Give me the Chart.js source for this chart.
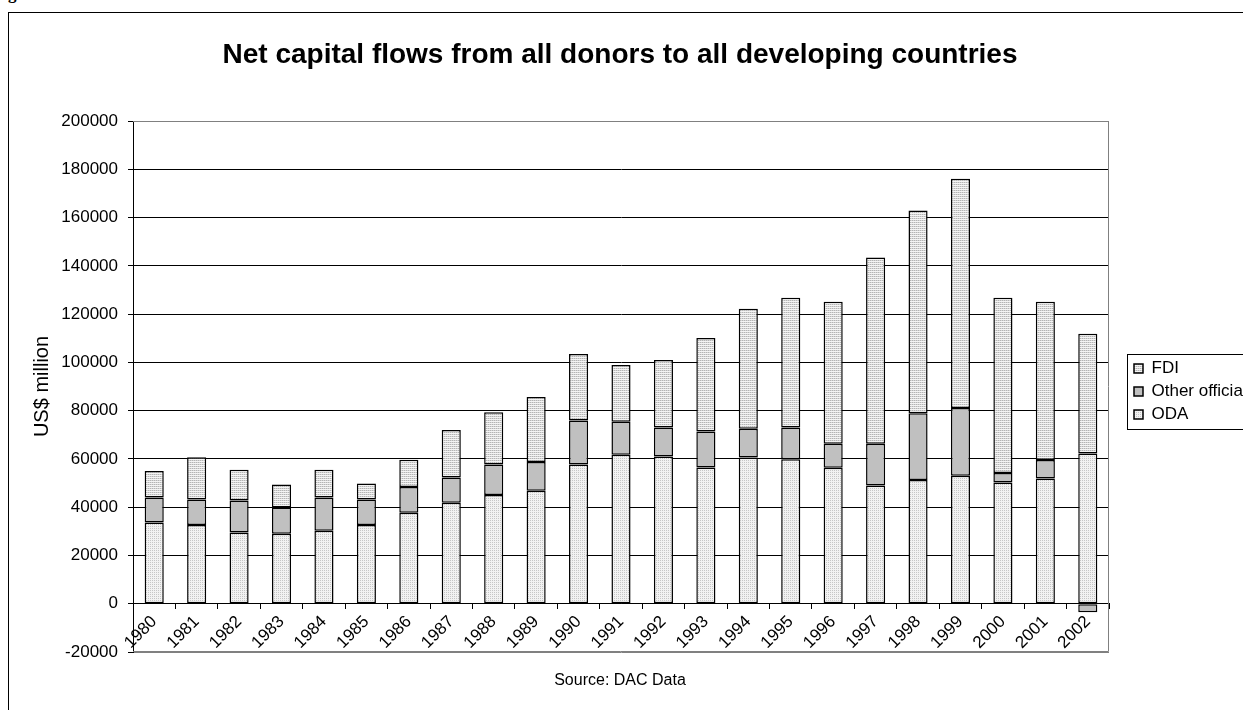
<!DOCTYPE html>
<html>
<head>
<meta charset="utf-8">
<title>Net capital flows from all donors to all developing countries</title>
<script src="https://cdn.jsdelivr.net/npm/chart.js@4.4.1/dist/chart.umd.min.js"></script>
<style>
html, body { margin: 0; padding: 0; background: #fff; overflow: hidden; width: 1243px; height: 710px; }
#wrap { position: relative; width: 1243px; height: 710px; overflow: hidden; }
#frame { position: absolute; left: 8px; top: 12px; width: 1300px; height: 800px; border: 1.5px solid #000; pointer-events: none; }
.fig { position: absolute; left: -7px; top: -16px; font: bold 17px "Liberation Serif", "Times New Roman", serif; }
canvas { position: absolute; left: 0; top: 0; }
</style>
</head>
<body>
<div id="wrap">
  <div class="fig">Figure 1:</div>
  <canvas id="flowChart" width="1243" height="710"></canvas>
  <div id="frame"></div>
</div>
<script>
// Data (US$ million)
const years = ['1980', '1981', '1982', '1983', '1984', '1985', '1986', '1987', '1988', '1989', '1990', '1991',
  '1992', '1993', '1994', '1995', '1996', '1997', '1998', '1999', '2000', '2001', '2002'];
const odaValues = [33700, 32600, 29500, 29000, 30200, 32600, 37700, 41800, 45000, 46800, 57700, 61700,
  61000, 56400, 60600, 59900, 56300, 49000, 51300, 53000, 50200, 51900, 62200];
const otherOfficialValues = [10300, 10600, 13300, 10900, 13800, 10600, 10700, 10500, 12700, 11900, 18200, 13700,
  12000, 15000, 11900, 13100, 10000, 17300, 27600, 28100, 4000, 7600, -3500];
const fdiValues = [11000, 17500, 12700, 9500, 11500, 6600, 11200, 19700, 21600, 26900, 27600, 23500,
  28000, 38700, 49700, 53800, 58800, 77100, 84000, 95000, 72600, 65600, 49700];
const yMin = -20000;
const yMax = 200000;
const yStep = 20000;

// Excel-style fill patterns
function makePattern(w, h, paint) {
    const c = document.createElement('canvas');
    c.width = w; c.height = h;
    const g = c.getContext('2d');
    paint(g);
    return g.createPattern(c, 'repeat');
}
const odaFill = makePattern(2, 2, g => {
    g.fillStyle = '#f2f2f2'; g.fillRect(0, 0, 2, 2);
    g.fillStyle = '#c6c6c6'; g.fillRect(0, 0, 1, 1);
});
const fdiFill = makePattern(4, 2, g => {
    g.fillStyle = '#f4f4f4'; g.fillRect(0, 0, 4, 2);
    g.fillStyle = '#b4b4b4'; g.fillRect(0, 0, 4, 1);
    g.fillStyle = '#d6d6d6'; g.fillRect(1, 0, 1, 1); g.fillRect(3, 0, 1, 1);
});

// Plot border, legend shift and legend frame
const framePlugin = {
    id: 'frame',
    afterLayout(chart) {
        const lg = chart.legend;
        lg.left += 19; lg.right += 19;
        lg.top += 5; lg.bottom += 5;
    },
    beforeDatasetsDraw(chart) {
        const { ctx, chartArea: a } = chart;
        ctx.save();
        ctx.strokeStyle = '#808080';
        ctx.lineWidth = 1;
        ctx.beginPath();
        ctx.moveTo(a.left, a.top + 0.5);
        ctx.lineTo(a.right - 0.5, a.top + 0.5);
        ctx.lineTo(a.right - 0.5, a.bottom - 0.5);
        ctx.lineTo(a.left, a.bottom - 0.5);
        ctx.stroke();
        ctx.restore();
    },
    afterDraw(chart) {
        const hb = chart.legend.legendHitBoxes;
        if (!hb || !hb.length) return;
        const { ctx } = chart;
        const last = hb[hb.length - 1];
        const x0 = Math.round(hb[0].left - 7) + 0.5;
        const y0 = Math.round(hb[0].top - 6) + 0.5;
        const y1 = Math.round(last.top + last.height + 6) + 0.5;
        ctx.save();
        ctx.strokeStyle = '#000';
        ctx.lineWidth = 1;
        ctx.strokeRect(x0, y0, chart.width + 20 - x0, y1 - y0);
        ctx.restore();
    }
};

Chart.defaults.font.family = 'Arial, "Liberation Sans", sans-serif';
Chart.defaults.color = '#000';

const barStyle = { borderColor: '#000', borderWidth: 1.5, borderSkipped: false, stack: 'flows' };

new Chart(document.getElementById('flowChart'), {
    type: 'bar',
    data: {
        labels: years,
        datasets: [
            { label: 'ODA', data: odaValues, backgroundColor: odaFill, ...barStyle },
            { label: 'Other official', data: otherOfficialValues, backgroundColor: '#c0c0c0', ...barStyle },
            { label: 'FDI', data: fdiValues, backgroundColor: fdiFill, ...barStyle }
        ]
    },
    options: {
        responsive: false,
        animation: false,
        events: [],
        categoryPercentage: 1,
        barPercentage: 0.45,
        layout: { padding: { left: 11, right: 14, top: 0, bottom: 0 } },
        scales: {
            x: {
                axis: 'x',
                stacked: true,
                position: { y: 0 },
                offset: true,
                grid: { display: true, drawOnChartArea: false, drawTicks: true, tickLength: 5, color: '#000', offset: true },
                border: { display: true, color: '#000', width: 1 },
                ticks: { minRotation: 45, maxRotation: 45, autoSkip: false, padding: 3, font: { size: 17 }, color: '#000' }
            },
            y: {
                stacked: true,
                min: yMin,
                max: yMax,
                afterFit: s => { s.width = 122; },
                ticks: { stepSize: yStep, padding: 10, font: { size: 17 }, color: '#000', callback: v => String(v) },
                grid: {
                    color: c => (c.tick && (c.tick.value === yMax || c.tick.value === yMin)) ? '#808080' : '#000',
                    tickColor: '#000',
                    tickLength: 5,
                    lineWidth: 1
                },
                border: { display: true, color: '#000', width: 1 },
                title: { display: true, text: 'US$ million', font: { size: 20 }, color: '#000', padding: { top: 19, bottom: 0 } }
            }
        },
        plugins: {
            title: {
                display: true,
                text: 'Net capital flows from all donors to all developing countries',
                font: { size: 28, weight: 'bold' },
                color: '#000',
                padding: { top: 38, bottom: 49.4 }
            },
            subtitle: {
                display: true,
                position: 'bottom',
                text: 'Source: DAC Data',
                font: { size: 16 },
                color: '#000',
                padding: { top: 19, bottom: 19.8 }
            },
            legend: {
                position: 'right',
                fullSize: false,
                reverse: true,
                maxWidth: 120,
                labels: { boxWidth: 9, boxHeight: 9, padding: 6, font: { size: 17 }, color: '#000' }
            },
            tooltip: { enabled: false }
        }
    },
    plugins: [framePlugin]
});
</script>
</body>
</html>
